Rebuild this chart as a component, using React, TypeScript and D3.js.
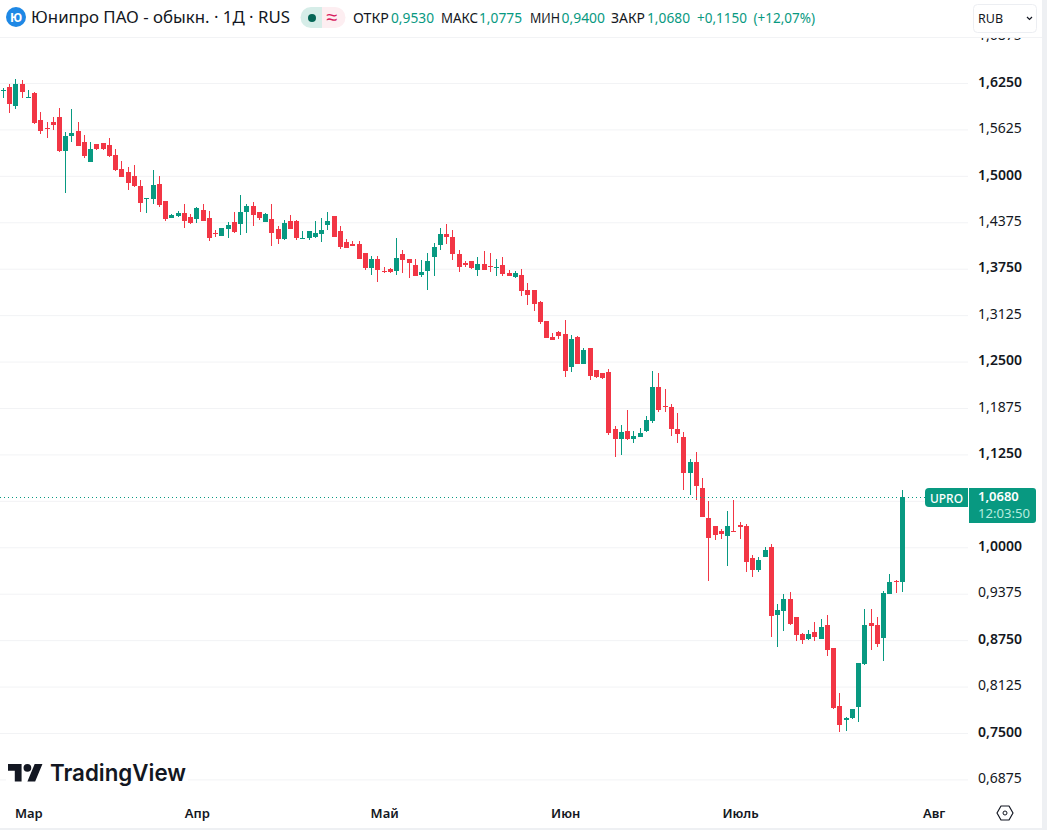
import React, { useEffect, useRef } from "react";
import * as d3 from "d3";

// one value per daily candle
const opens = [
  1.614,1.6195,1.594,1.6235,1.605,1.6115,1.575,1.565,1.5725,1.579,
  1.5335,1.5535,1.5605,1.5455,1.5185,1.543,1.544,1.5415,1.528,1.509,
  1.505,1.5,1.4865,1.47,1.469,1.489,1.466,1.4435,1.446,1.45,
  1.4445,1.442,1.454,1.4435,1.423,1.419,1.4285,1.438,1.435,1.4515,
  1.4595,1.4515,1.438,1.442,1.4285,1.415,1.439,1.439,1.4165,1.4165,
  1.4175,1.4215,1.434,1.446,1.426,1.411,1.4085,1.4085,1.396,1.376,
  1.388,1.372,1.3745,1.372,1.395,1.388,1.38,1.3665,1.372,1.391,
  1.407,1.4215,1.4175,1.395,1.3825,1.3855,1.3735,1.3815,1.3785,1.3765,
  1.38,1.369,1.364,1.3665,1.3465,1.3465,1.33,1.3045,1.283,1.29,
  1.287,1.2425,1.283,1.247,1.2685,1.2385,1.2345,1.236,1.1595,1.146,
  1.1565,1.146,1.1485,1.1565,1.17,1.216,1.19,1.189,1.1595,1.1485,
  1.1,1.115,1.08,1.0395,1.0285,1.022,1.015,1.022,1.03,1.0285,
  0.9855,0.9695,0.987,1.0005,0.909,0.9145,0.9305,0.906,0.8835,0.8765,
  0.886,0.8765,0.8955,0.8645,0.7865,0.7675,0.7705,0.785,0.843,0.898,
  0.8955,0.878,0.937,0.954,0.953,
];
const closes = [
  1.616,1.5965,1.6235,1.613,1.6055,1.571,1.5605,1.5635,1.5685,1.5335,
  1.5535,1.5575,1.54,1.5265,1.536,1.536,1.536,1.5265,1.508,1.4985,
  1.4905,1.4865,1.4635,1.4705,1.4875,1.461,1.442,1.4475,1.45,1.439,
  1.4365,1.4565,1.439,1.4165,1.4215,1.43,1.434,1.4245,1.4515,1.4595,
  1.4475,1.4435,1.4485,1.423,1.415,1.4365,1.4285,1.4165,1.417,1.426,
  1.423,1.427,1.439,1.4175,1.404,1.403,1.4055,1.388,1.376,1.388,
  1.3735,1.3705,1.3705,1.3895,1.3865,1.3825,1.365,1.3705,1.3855,1.404,
  1.4215,1.4175,1.395,1.3775,1.38,1.376,1.3815,1.3735,1.3775,1.377,
  1.368,1.365,1.369,1.345,1.3395,1.3275,1.3035,1.282,1.279,1.2845,
  1.2375,1.2805,1.247,1.2655,1.2305,1.2295,1.228,1.154,1.146,1.155,
  1.146,1.15,1.154,1.1715,1.216,1.185,1.189,1.1595,1.1525,1.1,
  1.115,1.0825,1.041,1.0125,1.0165,1.018,1.0285,1.0205,1.0275,0.9805,
  0.9695,0.983,0.9965,0.9075,0.9155,0.9305,0.897,0.882,0.875,0.8835,
  0.8795,0.893,0.862,0.7835,0.761,0.7705,0.7825,0.8445,0.8955,0.894,
  0.87,0.9385,0.953,0.953,1.068,
];
const highs = [
  1.618,1.6235,1.6305,1.629,1.6155,1.613,1.586,1.5725,1.579,1.5915,
  1.559,1.59,1.5725,1.555,1.5455,1.543,1.544,1.551,1.536,1.52,
  1.512,1.5145,1.4945,1.4705,1.508,1.5,1.466,1.4485,1.4525,1.462,
  1.4485,1.458,1.462,1.4525,1.427,1.43,1.438,1.4515,1.474,1.462,
  1.465,1.4515,1.45,1.462,1.4325,1.4405,1.4475,1.4405,1.426,1.426,
  1.439,1.4435,1.4515,1.446,1.4325,1.415,1.4125,1.4125,1.396,1.392,
  1.392,1.3775,1.376,1.4165,1.4,1.388,1.388,1.3865,1.396,1.4095,
  1.43,1.435,1.427,1.4,1.3855,1.3855,1.391,1.399,1.396,1.388,
  1.391,1.3735,1.372,1.3745,1.356,1.3465,1.3315,1.3045,1.2885,1.291,
  1.306,1.286,1.2845,1.2685,1.2685,1.2385,1.2345,1.24,1.1635,1.1645,
  1.185,1.1565,1.1605,1.177,1.2375,1.2345,1.213,1.193,1.181,1.155,
  1.119,1.1285,1.0935,1.0625,1.0285,1.0245,1.049,1.0635,1.034,1.0315,
  0.9895,0.987,1.0005,1.0045,0.9235,0.937,0.94,0.906,0.8845,0.8885,
  0.8995,0.9035,0.909,0.8645,0.804,0.7715,0.7825,0.8445,0.917,0.917,
  0.906,0.941,0.964,0.956,1.0775,
];
const lows = [
  1.605,1.5845,1.59,1.605,1.605,1.57,1.5565,1.551,1.5615,1.532,
  1.477,1.5455,1.54,1.524,1.5185,1.535,1.535,1.5255,1.5065,1.4985,
  1.481,1.485,1.4515,1.45,1.462,1.458,1.439,1.4435,1.4445,1.43,
  1.435,1.4365,1.439,1.4125,1.4175,1.419,1.4165,1.423,1.4205,1.423,
  1.4325,1.4405,1.438,1.4055,1.4085,1.4135,1.4285,1.4135,1.4165,1.4135,
  1.4165,1.411,1.427,1.4175,1.4015,1.403,1.4055,1.388,1.3735,1.3665,
  1.357,1.369,1.369,1.3665,1.369,1.3625,1.365,1.364,1.3465,1.365,
  1.4,1.4085,1.3865,1.3705,1.3775,1.3745,1.365,1.3735,1.3705,1.365,
  1.365,1.365,1.3625,1.3385,1.326,1.318,1.3005,1.282,1.279,1.2805,
  1.2295,1.236,1.247,1.247,1.225,1.228,1.2265,1.151,1.1215,1.1245,
  1.1445,1.1405,1.1485,1.155,1.1675,1.182,1.182,1.15,1.1405,1.077,
  1.0705,1.0635,1.041,0.9545,1.01,1.011,0.975,1.0205,1.011,0.967,
  0.96,0.967,0.987,0.8795,0.866,0.8875,0.8955,0.874,0.87,0.875,
  0.874,0.8765,0.8535,0.7825,0.7515,0.753,0.769,0.765,0.8415,0.862,
  0.866,0.847,0.937,0.9385,0.94,
];

const gridLevels = [
  1.6875, 1.625, 1.5625, 1.5, 1.4375, 1.375, 1.3125, 1.25, 1.1875, 1.125,
  1.0625, 1, 0.9375, 0.875, 0.8125, 0.75, 0.6875,
];
// 1,0625 has a grid line but its label sits behind the last price box
const priceTicks = gridLevels.filter((d) => d !== 1.0625);
// the whole-eighth levels are drawn heavier on the price scale
const strongTicks = [1.625, 1.5, 1.375, 1.25, 1.125, 1, 0.875, 0.75];

const monthNames = ["Мар", "Апр", "Май", "Июн", "Июль", "Авг"];
const monthStarts = [4, 31, 61, 90, 118, 149]; // candle index under each label

const legendItems = [
  { text: "ОТКР", x: 353, w: 36, up: false },
  { text: "0,9530", x: 391, w: 43, up: true },
  { text: "МАКС", x: 441, w: 37, up: false },
  { text: "1,0775", x: 479, w: 43, up: true },
  { text: "МИН", x: 530, w: 30, up: false },
  { text: "0,9400", x: 561.5, w: 43.5, up: true },
  { text: "ЗАКР", x: 611, w: 34, up: false },
  { text: "1,0680", x: 647, w: 43, up: true },
  { text: "+0,1150", x: 697, w: 50, up: true },
  { text: "(+12,07%)", x: 753.5, w: 61.5, up: true },
];

const UP = "#089981";
const DOWN = "#f23645";
const GRID = "#f2f3f5";
const FONT = "'Noto Sans', sans-serif";

const CandleChart = () => {
  const svgRef = useRef<SVGSVGElement>(null);

  useEffect(() => {
    const svg = d3.select(svgRef.current);
    svg.selectAll("*").remove();
    svg.style("font-family", FONT);

    const x = d3.scaleLinear().domain([0, 144]).range([3.3, 902.4]);
    const y = d3.scaleLinear().domain([1.625, 0.75]).range([83, 733]);

    svg.append("rect").attr("width", 1047).attr("height", 830).attr("fill", "#fff");

    // horizontal grid
    const grid = svg
      .append("g")
      .call(d3.axisRight(y).tickValues(gridLevels).tickSize(968).tickFormat(() => ""));
    grid.select(".domain").remove();
    grid.selectAll("line").attr("stroke", GRID);

    // candles
    const candles = svg
      .append("g")
      .selectAll("g")
      .data(opens)
      .join("g")
      .attr("fill", (d, i) => (closes[i] >= d ? UP : DOWN))
      .attr("shape-rendering", "crispEdges");
    candles
      .append("rect")
      .attr("x", (d, i) => Math.round(x(i) - 0.5))
      .attr("width", 1)
      .attr("y", (d, i) => y(highs[i]))
      .attr("height", (d, i) => y(lows[i]) - y(highs[i]));
    candles
      .append("rect")
      .attr("x", (d, i) => Math.round(x(i) - 2.5))
      .attr("width", 5)
      .attr("y", (d, i) => y(Math.max(d, closes[i])))
      .attr("height", (d, i) => Math.max(1, Math.abs(y(d) - y(closes[i]))));

    // last price line
    const last = closes[closes.length - 1];
    svg
      .append("line")
      .attr("x1", 0)
      .attr("x2", 926)
      .attr("y1", Math.round(y(last)) + 0.5)
      .attr("y2", Math.round(y(last)) + 0.5)
      .attr("stroke", UP)
      .attr("stroke-dasharray", "1 3")
      .attr("shape-rendering", "crispEdges");

    // price scale
    const priceAxis = svg
      .append("g")
      .attr("transform", "translate(978,-1.2)")
      .call(
        d3
          .axisRight(y)
          .tickValues(priceTicks)
          .tickSize(0)
          .tickPadding(0)
          .tickFormat((d) => d3.format(".4f")(+d).replace(".", ","))
      );
    priceAxis.select(".domain").remove();
    priceAxis
      .selectAll("text")
      .attr("fill", "#131722")
      .attr("font-size", 14)
      .attr("font-family", FONT)
      .attr("font-weight", (d: any) => (strongTicks.includes(d) ? 600 : 400));

    // last price labels
    svg.append("path").attr("d", "M968,488H929a4,4 0 0 0 -4,4V503a4,4 0 0 0 4,4H968Z").attr("fill", UP);
    svg
      .append("text")
      .attr("x", 930)
      .attr("y", 502.5)
      .attr("fill", "#fff")
      .attr("font-size", 13)
      .attr("font-weight", 500)
      .attr("textLength", 33)
      .attr("lengthAdjust", "spacingAndGlyphs")
      .text("UPRO");
    svg.append("path").attr("d", "M969,488H1033a3,3 0 0 1 3,3V520a3,3 0 0 1 -3,3H969Z").attr("fill", UP);
    svg
      .append("text")
      .attr("x", 978)
      .attr("y", 500.5)
      .attr("fill", "#fff")
      .attr("font-size", 13)
      .attr("font-weight", 600)
      .text("1,0680");
    svg
      .append("text")
      .attr("x", 978)
      .attr("y", 517.5)
      .attr("fill", "#b5ebdf")
      .attr("font-size", 12.5)
      .attr("textLength", 52)
      .attr("lengthAdjust", "spacingAndGlyphs")
      .text("12:03:50");

    // time axis
    const timeAxis = svg
      .append("g")
      .attr("transform", "translate(0,814)")
      .call(
        d3
          .axisBottom(x)
          .tickValues(monthStarts)
          .tickSize(0)
          .tickPadding(0)
          .tickFormat((d) => monthNames[monthStarts.indexOf(+d)])
      );
    timeAxis.select(".domain").remove();
    timeAxis
      .selectAll("text")
      .attr("fill", "#131722")
      .attr("font-size", 13)
      .attr("font-family", FONT)
      .attr("font-weight", 600)
      .attr("dy", "0.3em");

    // settings hexagon
    svg
      .append("path")
      .attr("d", "M1001,806H1009L1013,813L1009,820H1001L997,813Z")
      .attr("fill", "none")
      .attr("stroke", "#131722")
      .attr("stroke-width", 1.2)
      .attr("stroke-linejoin", "round");
    svg.append("circle").attr("cx", 1005).attr("cy", 813).attr("r", 2).attr("fill", "none").attr("stroke", "#131722");

    // logo
    svg.append("rect").attr("x", 6).attr("y", 762).attr("width", 182).attr("height", 26).attr("fill", "#fff");
    const logo = svg.append("g").attr("transform", "translate(8,760.1) scale(0.97)").attr("fill", "#131722");
    logo.append("path").attr("d", "M14 22H7V11H0V4h14v18zM28 22h-8l7.5-18h8L28 22z");
    logo.append("circle").attr("cx", 20).attr("cy", 8).attr("r", 4);
    svg
      .append("text")
      .attr("x", 50)
      .attr("y", 781)
      .attr("fill", "#131722")
      .attr("font-family", "Inter, sans-serif")
      .attr("font-size", 23)
      .attr("font-weight", 600)
      .attr("textLength", 136)
      .attr("lengthAdjust", "spacingAndGlyphs")
      .text("TradingView");

    // header
    svg.append("rect").attr("width", 1043).attr("height", 37).attr("fill", "#fff");
    svg.append("line").attr("x1", 0).attr("x2", 1043).attr("y1", 37.5).attr("y2", 37.5).attr("stroke", GRID);
    svg.append("circle").attr("cx", 16).attr("cy", 17).attr("r", 10).attr("fill", "#1e88e5");
    svg
      .append("text")
      .attr("x", 16)
      .attr("y", 21.5)
      .attr("text-anchor", "middle")
      .attr("fill", "#fff")
      .attr("font-size", 12)
      .attr("font-weight", 700)
      .text("Ю");
    svg
      .append("text")
      .attr("x", 31)
      .attr("y", 23)
      .attr("fill", "#131722")
      .attr("font-size", 16)
      .attr("textLength", 259)
      .attr("lengthAdjust", "spacingAndGlyphs")
      .text("Юнипро ПАО - обыкн. · 1Д · RUS");

    // market status pill
    svg.append("path").attr("d", "M322,7H311a10.5,10.5 0 0 0 0,21H322Z").attr("fill", "#d6ede8");
    svg.append("path").attr("d", "M322,7H335a10.5,10.5 0 0 1 0,21H322Z").attr("fill", "#fdeef1");
    svg.append("circle").attr("cx", 312).attr("cy", 18).attr("r", 4).attr("fill", "#056656");
    svg
      .append("text")
      .attr("x", 332)
      .attr("y", 24)
      .attr("text-anchor", "middle")
      .attr("fill", "#d81b60")
      .attr("font-size", 20)
      .text("≈");

    // OHLC legend
    svg
      .append("g")
      .selectAll("text")
      .data(legendItems)
      .join("text")
      .attr("x", (d) => d.x)
      .attr("y", 23)
      .attr("fill", (d) => (d.up ? UP : "#131722"))
      .attr("font-size", 14)
      .attr("textLength", (d) => d.w)
      .attr("lengthAdjust", "spacingAndGlyphs")
      .text((d) => d.text);

    // currency button
    svg
      .append("rect")
      .attr("x", 973.5)
      .attr("y", 4.5)
      .attr("width", 63)
      .attr("height", 28)
      .attr("rx", 4)
      .attr("fill", "#fff")
      .attr("stroke", "#eceef2");
    svg.append("text").attr("x", 978).attr("y", 23).attr("fill", "#131722").attr("font-size", 12.5).text("RUB");
    svg
      .append("path")
      .attr("d", "M1027,17l2.5,2.5l2.5,-2.5")
      .attr("fill", "none")
      .attr("stroke", "#131722")
      .attr("stroke-width", 1.2);

    // page frame on the right and bottom
    svg.append("rect").attr("x", 1042).attr("width", 5).attr("height", 830).attr("fill", "#eef0f3");
    svg.append("rect").attr("y", 828).attr("width", 1047).attr("height", 2).attr("fill", "#eef0f3");
  }, []);

  return (
    <svg
      ref={svgRef}
      width={1047}
      height={830}
      style={{ position: "absolute", left: 0, top: 0, display: "block" }}
    />
  );
};

export default function App() {
  return <CandleChart />;
}
